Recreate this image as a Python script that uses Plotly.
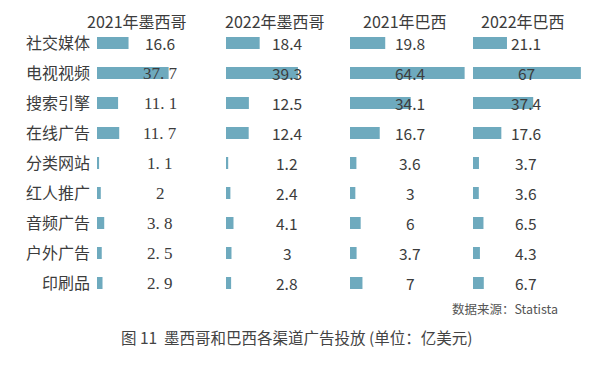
import plotly.graph_objects as go

# page is rendered with an 8px body margin; design in page pixels, then offset
OFF = 8
W, H = 595 - 2 * OFF, 365 - 2 * OFF

categories = ["社交媒体", "电视视频", "搜索引擎", "在线广告", "分类网站", "红人推广", "音频广告", "户外广告", "印刷品"]
series_names = ["2021年墨西哥", "2022年墨西哥", "2021年巴西", "2022年巴西"]
mx2021 = [16.6, 37.7, 11.1, 11.7, 1.1, 2, 3.8, 2.5, 2.9]
mx2022 = [18.4, 39.3, 12.5, 12.4, 1.2, 2.4, 4.1, 3, 2.8]
br2021 = [19.8, 64.4, 34.1, 16.7, 3.6, 3, 6, 3.7, 7]
br2022 = [21.1, 67, 37.4, 17.6, 3.7, 3.6, 6.5, 4.3, 6.7]
series = [mx2021, mx2022, br2021, br2022]
# first-column labels shown in a serif (SimSun-like) face, except the first
serif_rows_col1 = [1, 2, 3, 4, 5, 6, 7, 8]

title_text = "图 11  墨西哥和巴西各渠道广告投放 (单位：亿美元)"
source_text = "数据来源：Statista"

# layout (page pixels)
dom_px = [(97, 207), (226, 336), (350, 465), (473, 583)]
scale_px = [1.9, 1.83, 1.78, 1.61]       # pixels per unit
label_cx = [160, 287, 410, 526]
header_cx = [137, 275, 405, 523]


def px(x):
    return (x - OFF) / W


def py(y):
    return 1 - (y - OFF) / H


BAR = "#6eaabe"
TXT = "#3c3c3c"
FONT = "Noto Sans CJK SC"

fig = go.Figure()
for i, vals in enumerate(series):
    ax = "x" if i == 0 else f"x{i+1}"
    fig.add_trace(go.Bar(
        x=vals, y=categories, orientation="h", xaxis=ax, yaxis="y",
        marker=dict(color=BAR, line=dict(width=0)), width=0.4,
        hoverinfo="x+y", showlegend=False))

layout = dict(
    width=W, height=H, margin=dict(l=0, r=0, t=0, b=0),
    paper_bgcolor="white", plot_bgcolor="white",
    font=dict(family=FONT, color=TXT),
    yaxis=dict(domain=[py(298), py(28)], type="category", range=[8.5, -0.5],
               showgrid=False, showline=False, zeroline=False, ticks="",
               tickfont=dict(size=16, color=TXT, family=FONT), ticklabelstandoff=6,
               anchor="x"),
)
for i, (a, b) in enumerate(dom_px):
    key = "xaxis" if i == 0 else f"xaxis{i+1}"
    rng = (b - a) / scale_px[i]
    layout[key] = dict(domain=[px(a), px(b)], range=[0, rng], visible=False,
                       showgrid=False, zeroline=False, anchor="y", fixedrange=True)
fig.update_layout(**layout)

ann = []
for i, vals in enumerate(series):
    for r, v in enumerate(vals):
        txt = f"{v:g}"
        fam = FONT
        if i == 0 and r in serif_rows_col1:
            txt = txt.replace(".", ". ")
            fam = "Liberation Serif"
        ann.append(dict(x=px(label_cx[i]), xref="paper", y=categories[r], yref="y",
                        text=txt, showarrow=False, xanchor="center", yanchor="middle",
                        font=dict(size=17 if fam != FONT else 15.5, family=fam, color=TXT)))
    ann.append(dict(x=px(header_cx[i]), xref="paper", y=1, yref="paper",
                    text=series_names[i], showarrow=False, xanchor="center", yanchor="top",
                    borderpad=0, font=dict(size=16, family=FONT, color=TXT)))
ann.append(dict(x=px(560), xref="paper", y=py(308), yref="paper", text=source_text,
                showarrow=False, xanchor="right", yanchor="middle",
                font=dict(size=12.5, family=FONT, color="#555555")))
ann.append(dict(x=px(297), xref="paper", y=py(337), yref="paper", text=title_text,
                showarrow=False, xanchor="center", yanchor="middle",
                font=dict(size=15.5, family=FONT, color="#444444")))
fig.update_layout(annotations=ann)

fig.write_html("out.html")
